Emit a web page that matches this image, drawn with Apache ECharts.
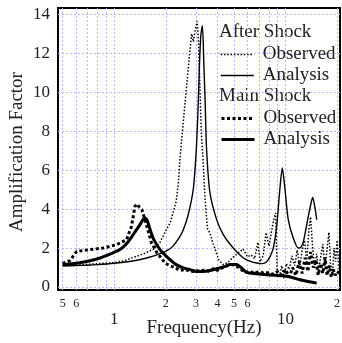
<!DOCTYPE html>
<html><head><meta charset="utf-8">
<script src="https://cdn.jsdelivr.net/npm/echarts@6/dist/echarts.min.js"></script>
<style>html,body{margin:0;padding:0;background:#fff}#c{width:342px;height:343px}</style>
</head><body><div id="c"></div>
<script>
// [frequency (Hz), amplification factor]
const asObserved = [[0.5,1.12],[0.6,1.15],[0.66,1.15],[0.8,1.2],[1.0,1.25],[1.15,1.35],[1.29,1.52],[1.5,1.72],[1.7,1.95],[1.85,2.3],[2.0,2.9],[2.12,3.3],[2.2,3.8],[2.3,4.4],[2.37,5.4],[2.42,6.6],[2.53,8.5],[2.65,10.4],[2.77,12.2],[2.83,13.0],[2.9,12.6],[2.97,13.2],[3.05,13.65],[3.1,12.7],[3.16,10.4],[3.22,8.0],[3.3,6.5],[3.39,4.5],[3.5,3.0],[3.62,2.77],[3.75,2.3],[3.89,1.92],[4.07,1.4],[4.33,1.15],[4.6,1.25],[4.9,1.5],[5.3,1.75],[5.65,1.95],[6.0,1.55],[6.3,1.65],[6.6,1.45],[6.9,2.3],[7.1,1.3],[7.4,1.6],[7.7,2.8],[8.0,2.1],[8.3,2.9],[8.55,3.5],[8.75,3.8],[8.95,0.6],[9.2,0.5],[9.5,1.1],[9.8,0.45],[10.1,1.2],[10.5,0.9],[10.9,1.6],[11.3,1.1],[11.7,1.9],[12.1,1.0],[12.5,1.9],[12.9,2.4],[13.3,1.3],[13.7,3.0],[14.0,3.6],[14.4,2.0],[14.8,1.0],[15.2,1.7],[15.6,0.8],[16.0,1.5],[16.5,2.2],[17.0,1.0],[17.5,2.0],[17.9,2.8],[18.3,1.2],[18.8,0.7],[19.2,2.0],[19.6,1.3],[20.0,2.4],[20.6,0.8]];
const asAnalysis = [[0.5,1.08],[0.6,1.1],[0.7,1.12],[0.8,1.15],[1.0,1.22],[1.2,1.3],[1.4,1.4],[1.62,1.54],[1.8,1.68],[2.02,1.85],[2.2,2.1],[2.4,2.55],[2.53,2.94],[2.7,3.7],[2.89,5.0],[3.0,6.8],[3.08,9.0],[3.14,11.3],[3.2,12.9],[3.27,13.42],[3.33,11.6],[3.39,9.6],[3.46,7.05],[3.62,4.83],[3.96,3.46],[4.33,2.69],[4.95,2.0],[5.67,1.49],[6.3,1.3],[6.78,1.23],[7.3,1.2],[7.76,1.3],[8.1,1.55],[8.48,2.0],[8.87,3.1],[9.28,5.1],[9.57,6.11],[9.93,5.0],[10.37,3.46],[11.1,2.5],[11.86,2.0],[12.3,2.05],[12.69,2.3],[13.58,3.63],[14.0,4.2],[14.4,4.6],[14.86,4.06],[15.2,3.46]];
const msObserved = [[0.5,1.2],[0.55,1.35],[0.604,1.83],[0.72,1.92],[0.863,2.0],[1.03,2.17],[1.18,2.43],[1.26,3.11],[1.32,4.14],[1.36,4.26],[1.4,4.1],[1.45,3.97],[1.55,3.11],[1.65,2.26],[1.78,1.75],[1.85,1.57],[1.98,1.23],[2.1,1.1],[2.26,1.0],[2.42,0.85],[2.6,0.9],[2.8,0.78],[3.0,0.85],[3.2,0.8],[3.4,0.9],[3.6,0.78],[3.8,0.95],[4.0,0.85],[4.3,1.0],[4.6,1.1],[4.9,1.15],[5.2,1.05],[5.5,0.9],[5.8,0.75],[6.2,0.8],[6.6,0.7],[7.0,0.8],[7.5,0.7],[8.0,0.75],[8.5,0.65],[9.0,0.8],[9.5,0.6],[10.0,0.9],[10.5,0.5],[11.0,1.0],[11.5,0.6],[12.0,1.3],[12.5,0.7],[13.0,1.5],[13.5,0.8],[14.0,1.8],[14.5,1.0],[15.0,1.4],[15.5,0.6],[16.0,1.2],[16.5,0.7],[17.0,1.5],[17.5,0.6],[18.0,1.1],[18.5,0.5],[19.0,0.9],[19.5,0.6],[20.0,0.8],[20.6,0.7]];
const msAnalysis = [[0.5,1.15],[0.6,1.22],[0.7,1.32],[0.826,1.49],[0.95,1.7],[1.08,1.92],[1.2,2.3],[1.29,2.69],[1.4,3.15],[1.47,3.45],[1.51,3.54],[1.56,3.4],[1.62,2.94],[1.7,2.45],[1.85,1.92],[2.0,1.6],[2.12,1.4],[2.3,1.15],[2.53,0.98],[2.77,0.89],[3.03,0.8],[3.3,0.8],[3.62,0.85],[4.0,0.95],[4.4,1.05],[4.74,1.15],[5.18,1.15],[5.5,1.0],[5.93,0.75],[6.8,0.68],[7.76,0.63],[8.7,0.6],[9.7,0.58],[10.8,0.5],[12.14,0.37],[13.5,0.28],[15.2,0.2]];

const yTicks = [0,2,4,6,8,10,12,14];
const xGridValues = [0.5,0.6,0.7,0.8,0.9,1,2,3,4,5,6,7,8,9,10,20];
const xMinorLabels = {0.5:'5',0.6:'6',2:'2',3:'3',4:'4',5:'5',6:'6',20:'2'};
const xMajorLabels = {1:'1',10:'10'};

const FONT = 'Liberation Serif';
const TXT = '#222';
const GRIDCOL = '#b8b8f8';

const styles = {
  'After Shock Observed': {color: '#000', width: 1.5, type: [1.5, 1.8]},
  'After Shock Analysis': {color: '#000', width: 1.4, type: 'solid'},
  'Main Shock Observed': {color: '#000', width: 3, type: [3, 2.5]},
  'Main Shock Analysis': {color: '#000', width: 3, type: 'solid'}
};

const gridLines = [];
yTicks.forEach(v => gridLines.push({yAxis: v, label: {show: true, position: 'start', formatter: String(v), distance: 8, fontSize: 17, fontFamily: FONT, color: TXT}}));
xGridValues.forEach(v => {
  let label = {show: false};
  if (xMinorLabels[v]) label = {show: true, position: 'start', formatter: xMinorLabels[v], distance: 8, fontSize: 12, fontFamily: FONT, color: TXT};
  if (xMajorLabels[v]) label = {show: true, position: 'start', formatter: xMajorLabels[v], distance: 21, fontSize: 17, fontFamily: FONT, color: TXT};
  gridLines.push({xAxis: v, label});
});

const legendItem = n => ({name: n, itemStyle: {opacity: 0}, lineStyle: Object.assign({}, styles[n])});

const chart = echarts.init(document.getElementById('c'), null, {renderer: 'canvas'});
const legendBase = {orient: 'vertical', left: 220, itemWidth: 33, itemHeight: 10, itemGap: 0, padding: 0, selectedMode: false,
  itemStyle: {opacity: 0},
  textStyle: {fontFamily: FONT, fontSize: 19, color: TXT, lineHeight: 21, padding: [0, 0, 0, 4]}};
chart.setOption({
  animation: false,
  backgroundColor: '#fff',
  color: ['#000'],
  grid: {left: 58, top: 8, width: 282, height: 282, show: true, borderColor: '#000', borderWidth: 2, backgroundColor: 'transparent'},
  xAxis: {type: 'log', logBase: 10, min: 0.4694, max: 20.79, axisLine: {show: false}, axisTick: {show: false}, axisLabel: {show: false}, splitLine: {show: false}},
  yAxis: {type: 'value', min: -0.154, max: 14.33, axisLine: {show: false}, axisTick: {show: false}, axisLabel: {show: false}, splitLine: {show: false}},
  legend: [
    Object.assign({}, legendBase, {top: 44, data: [legendItem('After Shock Observed'), legendItem('After Shock Analysis')], formatter: n => n.replace('After Shock ', '')}),
    Object.assign({}, legendBase, {top: 108, data: [legendItem('Main Shock Observed'), legendItem('Main Shock Analysis')], formatter: n => n.replace('Main Shock ', '')})
  ],
  graphic: [
    {type: 'text', x: 219, y: 32, style: {text: 'After Shock', font: '19px "Liberation Serif"', fill: TXT, align: 'left', verticalAlign: 'middle', textAlign: 'left', textVerticalAlign: 'middle'}},
    {type: 'text', x: 219, y: 96, style: {text: 'Main Shock', font: '19px "Liberation Serif"', fill: TXT, align: 'left', verticalAlign: 'middle', textAlign: 'left', textVerticalAlign: 'middle'}},
    {type: 'text', x: 204, y: 328, style: {text: 'Frequency(Hz)', font: '19px "Liberation Serif"', fill: TXT, align: 'center', verticalAlign: 'middle', textAlign: 'center', textVerticalAlign: 'middle'}},
    {type: 'text', x: 17.5, y: 152, rotation: Math.PI / 2, style: {text: 'Amplification Factor', font: '19px "Liberation Serif"', fill: TXT, align: 'center', verticalAlign: 'middle', textAlign: 'center', textVerticalAlign: 'middle'}}
  ],
  series: [
    {type: 'line', data: [], silent: true, z: 1,
     markLine: {silent: true, z: 1, symbol: ['none', 'none'], animation: false, lineStyle: {color: GRIDCOL, type: [2, 2], width: 1}, label: {show: false}, emphasis: {disabled: true}, data: gridLines}},
    {name: 'After Shock Observed', type: 'line', data: asObserved, symbol: 'none', z: 3, lineStyle: styles['After Shock Observed']},
    {name: 'After Shock Analysis', type: 'line', data: asAnalysis, symbol: 'none', z: 3, smooth: 0.25, lineStyle: styles['After Shock Analysis']},
    {name: 'Main Shock Observed', type: 'line', data: msObserved, symbol: 'none', z: 3, lineStyle: styles['Main Shock Observed']},
    {name: 'Main Shock Analysis', type: 'line', data: msAnalysis, symbol: 'none', z: 3, smooth: 0.25, lineStyle: styles['Main Shock Analysis']}
  ]
});
</script></body></html>
